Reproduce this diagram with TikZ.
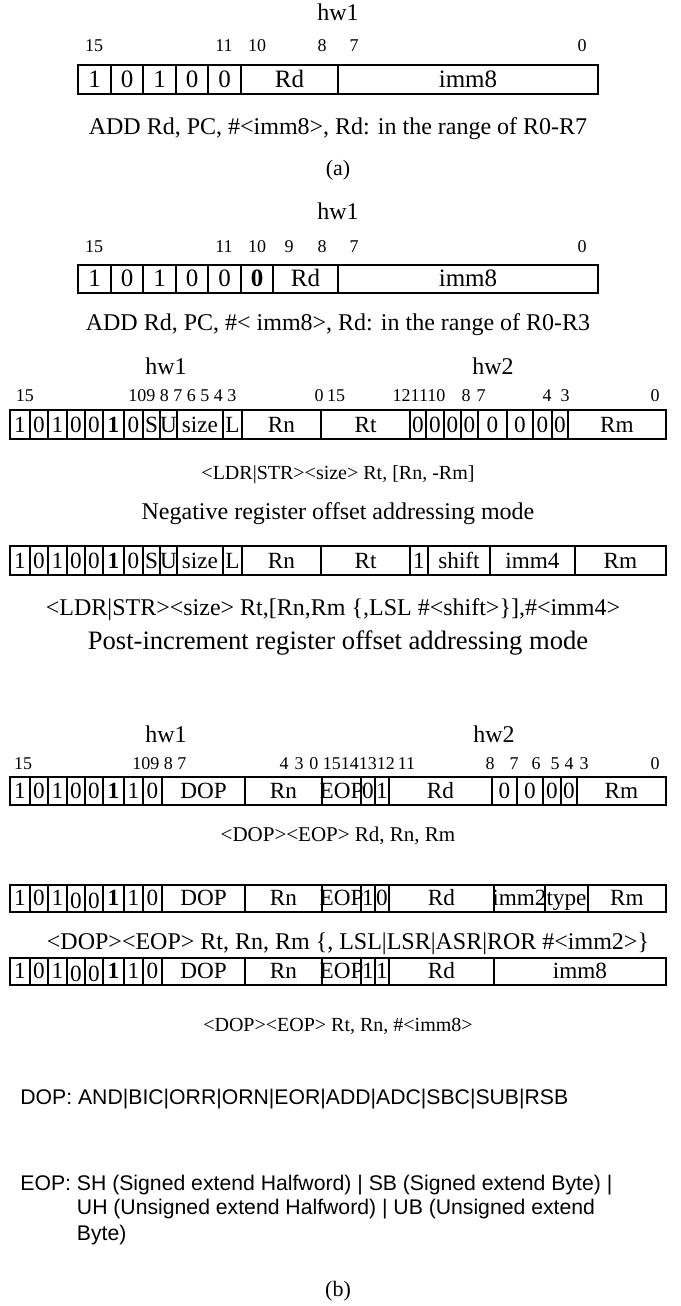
\documentclass[tikz,border=0pt]{standalone}
\usepackage{fontspec}
\setmainfont{Liberation Serif}
\newfontfamily\sansf{Liberation Sans}
\newcommand\lowz{\raisebox{-1.5pt}{0}}
\newcommand\fieldrow[5]{%
  \foreach \xa/\xb/\tx [count=\i] in {#5} {
    \draw[cellline] (\xa,#3) rectangle (\xb,#4);
    \node[#2] (#1-\i) at ({(\xa+\xb)/2},{#4-6.5}) {\tx};
  }
}
\newcommand\bitrow[3]{%
  \foreach \x/\t [count=\i] in {#3} { \node[bitlbl] (#1-\i) at (\x,#2) {\t}; }
}
\tikzset{
  cellline/.style={line width=0.9pt},
  celltxt/.style={inner sep=0pt, anchor=base, font=\fontsize{11.6}{13}\selectfont},
  bigcell/.style={inner sep=0pt, anchor=base, font=\fontsize{12.5}{14}\selectfont},
  bitlbl/.style={inner sep=0pt, anchor=base, font=\fontsize{9}{10}\selectfont},
  hwlbl/.style={inner sep=0pt, anchor=base, font=\fontsize{12}{14}\selectfont},
  capL/.style={inner sep=0pt, anchor=base, font=\fontsize{12}{14}\selectfont},
  capM/.style={inner sep=0pt, anchor=base, font=\fontsize{10.5}{12.5}\selectfont},
  capS/.style={inner sep=0pt, anchor=base, font=\fontsize{10}{12}\selectfont},
  capXL/.style={inner sep=0pt, anchor=base, font=\fontsize{13.3}{15}\selectfont},
  sublbl/.style={inner sep=0pt, anchor=base, font=\fontsize{11}{13}\selectfont},
  sanst/.style={inner sep=0pt, anchor=base west, font=\sansf\fontsize{10.6}{12.5}\selectfont},
}
\begin{document}
\begin{tikzpicture}[x=0.5pt,y=-0.5pt]
\useasboundingbox[fill=white] (0,0) rectangle (680,1306);

% ---------- (a) ----------
\node[hwlbl] (a-hw1) at (338,20) {hw1};
\bitrow{la}{51}{94/15,224/11,257/10,322/8,354/7,582/0}
\fieldrow{ra}{bigcell}{65}{94}{78/111/1,111/143/0,143/176/1,176/208/0,208/241/0,241/338/Rd,338/598/imm8}
\node[capL] (a-txt) at (338,134) {ADD Rd, PC, \#<imm8>, Rd: in the range of R0-R7};
\node[sublbl] (a-cap) at (338,175) {(a)};

% ---------- (b) first ----------
\node[hwlbl] (b1-hw1) at (338,219) {hw1};
\bitrow{lb}{252}{94/15,224/11,257/10,289/9,322/8,354/7,582/0}
\fieldrow{rb}{bigcell}{265}{293}{78/111/1,111/143/0,143/176/1,176/208/0,208/241/0,241/273/{\textbf{0}},273/338/Rd,338/598/imm8}
\node[capL] (b1-txt) at (338,330) {ADD Rd, PC, \#< imm8>, Rd: in the range of R0-R3};

% ---------- LDR/STR ----------
\node[hwlbl] (c-hw1) at (166,374) {hw1};
\node[hwlbl] (c-hw2) at (493,374) {hw2};
\bitrow{lc}{401}{25/15,319/0,336/15,466/8,481/7,547/4,565/3,655/0}
\node[bitlbl, anchor=base west] (lc-a) at (128,401) {109 8 7 6 5 4 3};
\node[bitlbl, anchor=base] (lc-b) at (419,401) {121110};
\fieldrow{rc}{celltxt}{410}{439}{10/30/1,30/48/0,48/67/1,67/85/0,85/103/0,103/124/{\textbf{1}},124/143/0,143/160/S,160/177/U,177/223/size,223/242/L,242/321/Rn,321/410/Rt,410/426/0,426/444/0,444/461/0,461/478/0,478/507/0,507/533/0,533/552/0,552/568/0,568/666/Rm}
\node[capS] (c-txt) at (338,479) {<LDR|STR><size> Rt, [Rn, -Rm]};
\node[capL] (c-mode) at (338,519) {Negative register offset addressing mode};

\fieldrow{rd}{celltxt}{546}{575}{10/30/1,30/48/0,48/67/1,67/85/0,85/103/0,103/124/{\textbf{1}},124/143/0,143/160/S,160/177/U,177/223/size,223/242/L,242/321/Rn,321/410/Rt,410/428/1,428/490/shift,490/575/imm4,575/666/Rm}
\node[capL] (d-txt) at (333,615) {<LDR|STR><size> Rt,[Rn,Rm \{,LSL \#<shift>\}],\#<imm4>};
\node[capXL] (d-mode) at (338,649) {Post-increment register offset addressing mode};

% ---------- DOP/EOP ----------
\node[hwlbl] (e-hw1) at (166,742) {hw1};
\node[hwlbl] (e-hw2) at (494,742) {hw2};
\bitrow{le}{769}{23/15,284/4,299/3,490/8,514/7,536/6,555/5,569/4,584/3,655/0}
\node[bitlbl, anchor=base west] (le-a) at (132,769) {109 8 7};
\node[bitlbl, anchor=base west] (le-b) at (309,769) {0 15141312\,11};
\fieldrow{re}{celltxt}{777}{805}{10/30/1,30/48/0,48/67/1,67/85/0,85/103/0,103/124/{\textbf{1}},124/143/1,143/162/0,162/245/DOP,245/322/Rn,322/361/EOP,361/375/0,375/389/1,389/492/Rd,492/517/0,517/543/0,543/561/0,561/577/0,577/666/Rm}
\node[capM] (e-txt) at (338,841) {<DOP><EOP> Rd, Rn, Rm};

\fieldrow{rf}{celltxt}{885}{912}{10/30/1,30/48/0,48/67/1,67/85/\lowz,85/103/\lowz,103/124/{\textbf{1}},124/143/1,143/162/0,162/245/DOP,245/322/Rn,322/361/EOP,361/375/1,375/389/0,389/494/Rd,494/545/imm2,545/588/type,588/666/Rm}
\node[capL] (f-txt) at (348,949) {<DOP><EOP> Rt, Rn, Rm \{, LSL|LSR|ASR|ROR \#<imm2>\}};

\fieldrow{rg}{celltxt}{958}{985}{10/30/1,30/48/0,48/67/1,67/85/\lowz,85/103/\lowz,103/124/{\textbf{1}},124/143/1,143/162/0,162/245/DOP,245/322/Rn,322/361/EOP,361/375/1,375/389/1,389/494/Rd,494/666/imm8}
\node[capS] (g-txt) at (338,1031) {<DOP><EOP> Rt, Rn, \#<imm8>};

% ---------- notes ----------
\node[sanst] (dop) at (20,1104) {DOP: AND|BIC|ORR|ORN|EOR|ADD|ADC|SBC|SUB|RSB};
\node[sanst] (eop1) at (20,1190) {EOP: SH (Signed extend Halfword) | SB (Signed extend Byte) |};
\node[sanst] (eop2) at (20,1214) {\phantom{EOP: }UH (Unsigned extend Halfword) | UB (Unsigned extend};
\node[sanst] (eop3) at (20,1240) {\phantom{EOP: }Byte)};
\node[sublbl] (b-cap) at (338,1296) {(b)};
\end{tikzpicture}
\end{document}
